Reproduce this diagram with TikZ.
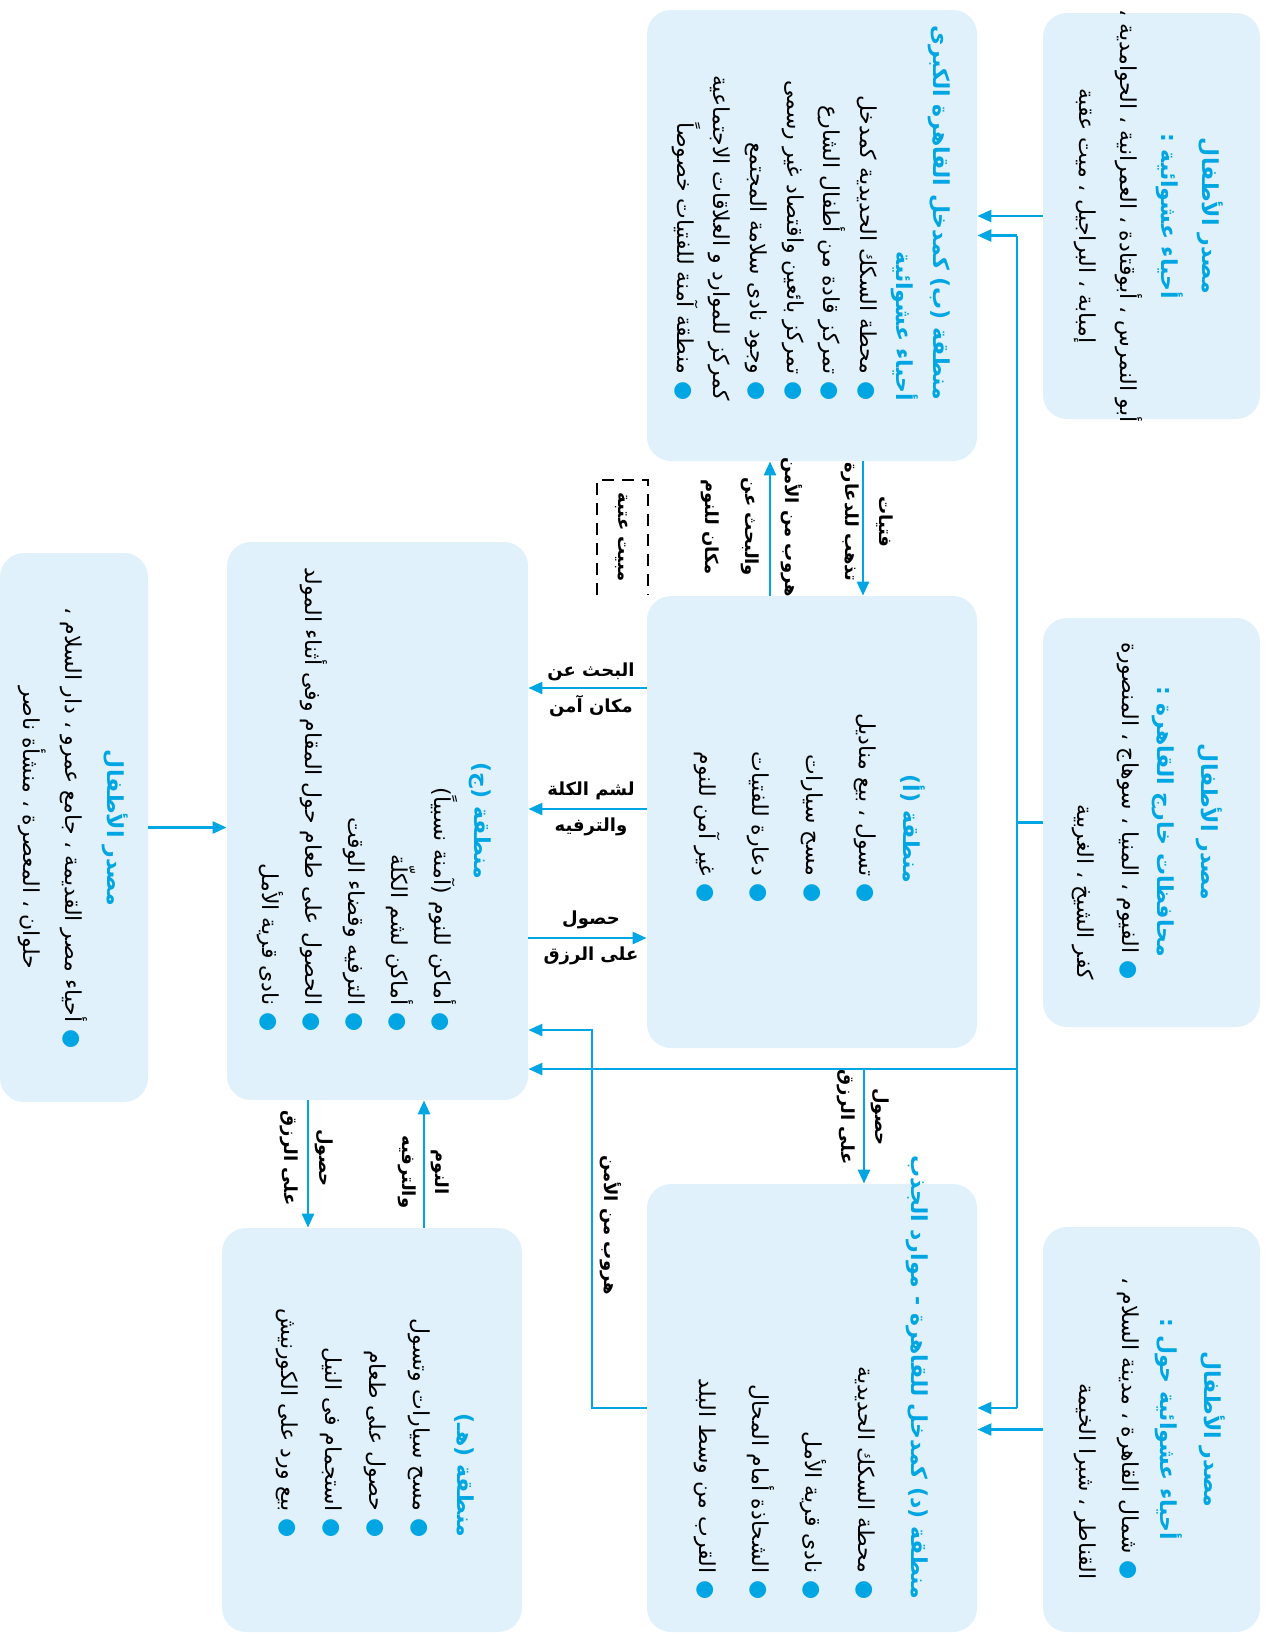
\documentclass[tikz,border=0pt]{standalone}
\usepackage{fontspec}
\newfontfamily\arabicfont[Script=Arabic]{DejaVu Sans}
\TeXXeTstate=1
\usetikzlibrary{arrows.meta}
\definecolor{boxblue}{RGB}{224,241,251}
\definecolor{hdblue}{RGB}{0,166,228}
\newcommand{\rl}[1]{\beginR #1\endR}
\newcommand{\hd}[1]{{\color{hdblue}\bfseries\beginR #1\endR}}
\newcommand{\bl}[1]{\beginR #1\endR\ {\color{hdblue}●}}
\begin{document}
\begin{tikzpicture}[x=0.5pt, y=-0.5pt,
  zone/.style={fill=boxblue, rounded corners=12pt, inner sep=0pt},
  txt/.style={rotate=-90, inner sep=0pt, font=\arabicfont\fontsize{11}{#1}\selectfont},
  lab/.style={inner sep=0pt, align=center, font=\arabicfont\bfseries\fontsize{9}{#1}\selectfont},
  flow/.style={draw=hdblue, line width=1.3pt, -{Triangle[length=7pt,width=6pt]}},
  link/.style={draw=hdblue, line width=1.3pt}]

\useasboundingbox (0,0) rectangle (1266,1635);

\node[zone, minimum width=108.5pt, minimum height=203pt] (srcWest) at (1151.5,216) {};
\node[zone, minimum width=165pt, minimum height=225.5pt] (zoneB) at (812,235.5) {};
\node[zone, minimum width=108.5pt, minimum height=204.5pt] (srcProv) at (1151.5,822.5) {};
\node[zone, minimum width=165pt, minimum height=226pt] (zoneA) at (812,822) {};
\node[zone, minimum width=108.5pt, minimum height=202.5pt] (srcNorth) at (1151.5,1429.5) {};
\node[zone, minimum width=165pt, minimum height=224pt] (zoneD) at (812,1408) {};
\node[zone, minimum width=150.5pt, minimum height=279pt] (zoneC) at (377.5,821) {};
\node[zone, minimum width=150pt, minimum height=202pt] (zoneE) at (372,1430) {};
\node[zone, minimum width=74pt, minimum height=274.5pt] (srcOld) at (74,827.5) {};

\node[txt=20.5, align=center] (tSrcWest) at (1148.5,216) {\hd{مصدر الأطفال}\\ \hd{أحياء عشوائية :}\\ \rl{أبو النمرس ، أبوقتادة ، العمرانية ، الحوامدية ،}\\ \rl{إمبابة ، البراجيل ، ميت عقبة}};

\node[txt=22, align=center] (hSrcProv) at (1187.5,822) {\hd{مصدر الأطفال}\\ \hd{محافظات خارج القاهرة :}};
\node[txt=22.5, align=right, anchor=east] (tSrcProv) at (1105.5,980) {\bl{الفيوم ، المنيا ، سوهاج ، المنصورة}\\ \rl{كفر الشيخ ، الغربية}};

\node[txt=22, align=center] (hSrcNorth) at (1190,1429.5) {\hd{مصدر الأطفال}\\ \hd{أحياء عشوائية حول :}};
\node[txt=21.5, align=right, anchor=east] (tSrcNorth) at (1106.5,1580) {\bl{شمال القاهرة ، مدينة السلام ،}\\ \rl{القناطر ، شبرا الخيمة}};

\node[txt=18.3, align=right, anchor=east] (tZoneB) at (811,401) {\hd{منطقة (ب) كمدخل القاهرة الكبرى}\\ \hd{أحياء عشوائية}\\ \bl{محطة السكك الحديدية كمدخل}\\ \bl{تمركز قادة من أطفال الشارع}\\ \bl{تمركز بائعين واقتصاد غير رسمى}\\ \bl{وجود نادى سلامة المجتمع}\\ \rl{كمركز للموارد و العلاقات الاجتماعية}\\ \bl{منطقة آمنة للفتيات خصوصاً}};

\node[txt=20, align=center] (hZoneA) at (913,829) {\hd{منطقة (أ)}};
\node[txt=26.7, align=right, anchor=east] (tZoneA) at (785,903) {\bl{تسول ، بيع مناديل}\\ \bl{مسح سيارات}\\ \bl{دعارة للفتيات}\\ \bl{غير آمن للنوم}};

\node[txt=26.5, align=right, anchor=east] (tZoneD) at (811,1600) {\hd{منطقة (د) كمدخل للقاهرة - موارد الجذب}\\ \bl{محطة السكك الحديدية}\\ \bl{نادى قرية الأمل}\\ \bl{الشحاذة أمام المحال}\\ \bl{القرب من وسط البلد}};

\node[txt=20, align=center] (hZoneC) at (480,821) {\hd{منطقة (ج)}};
\node[txt=21.5, align=right, anchor=east] (tZoneC) at (357,1032) {\bl{أماكن للنوم (آمنة نسبياً)}\\ \bl{أماكن لشم الكلّة}\\ \bl{الترفيه وقضاء الوقت}\\ \bl{الحصول على طعام حول المقام وفى أثناء المولد}\\ \bl{نادى قرية الأمل}};

\node[txt=22, align=right, anchor=east] (tZoneE) at (375.5,1538) {\hd{منطقة (هـ)}\\ \bl{مسح سيارات وتسول}\\ \bl{حصول على طعام}\\ \bl{استجمام فى النيل}\\ \bl{بيع ورد على الكورنيش}};

\node[txt=21, align=center] (tSrcOld) at (73,828) {\hd{مصدر الأطفال}\\ \bl{أحياء مصر القديمة ، جامع عمرو ، دار السلام ،}\\ \rl{حلوان ، المعصرة ، منشأة ناصر}};

\node[lab=17, rotate=-90] (lGirls) at (867,522) {\rl{فتيات}\\ \rl{تذهب للدعارة}};
\node[lab=20, rotate=-90] (lFlee) at (752,527) {\rl{هروب من الأمن}\\ \rl{والبحث عن}\\ \rl{مكان للنوم}};
\node[lab=12, rotate=-90] (lMabeet) at (622,537) {\rl{مبيت عتبة}};
\draw[line width=0.6pt, dash pattern=on 6pt off 4pt] (597,595) -- (597,480) -- (648,480) -- (648,595);

\node[lab=18] (lPairA) at (591,690) {\rl{البحث عن}\\ \rl{مكان آمن}};
\node[lab=18] (lPairB) at (591,809) {\rl{لشم الكلة}\\ \rl{والترفيه}};
\node[lab=18] (lPairC) at (591,938) {\rl{حصول}\\ \rl{على الرزق}};

\node[lab=17, rotate=-90] (lRizqD) at (863,1117) {\rl{حصول}\\ \rl{على الرزق}};
\node[lab=17.5, rotate=-90] (lRizqE) at (307,1158) {\rl{حصول}\\ \rl{على الرزق}};
\node[lab=16.5, rotate=-90] (lSleep) at (424,1172) {\rl{النوم}\\ \rl{والترفيه}};
\node[lab=12, rotate=-90] (lFleeD) at (611,1225) {\rl{هروب من الأمن}};

\coordinate (trunk) at (1017,822);
\coordinate (xGirl) at (863,530);
\coordinate (xFlee) at (770,530);
\coordinate (yOne) at (590,688);
\coordinate (yTwo) at (590,809);
\coordinate (yThree) at (590,938);
\coordinate (jRizq) at (864,1069);
\coordinate (esc) at (592,1030);
\coordinate (xRizq) at (308,1160);
\coordinate (xNap) at (424,1160);

\draw[flow] (srcWest.west) -- (srcWest.west -| zoneB.east);
\draw[link] (zoneB.east -| trunk) -- (zoneD.east -| trunk);
\draw[flow] (zoneB.east -| trunk) -- (zoneB.east);
\draw[flow] (zoneD.east -| trunk) -- (zoneD.east);
\draw[link] (srcProv.west) -- (srcProv.west -| trunk);
\draw[flow] (srcNorth.west) -- (srcNorth.west -| zoneD.east);
\draw[flow] (jRizq -| trunk) -- (jRizq -| zoneC.east);
\draw[flow] (jRizq) -- (jRizq |- zoneD.north);
\draw[flow] (xGirl |- zoneB.south) -- (xGirl |- zoneA.north);
\draw[flow] (xFlee |- zoneA.north) -- (xFlee |- zoneB.south);
\draw[flow] (yOne -| zoneA.west) -- (yOne -| zoneC.east);
\draw[flow] (yTwo -| zoneA.west) -- (yTwo -| zoneC.east);
\draw[flow] (yThree -| zoneC.east) -- (yThree -| zoneA.west);
\draw[flow] (zoneD.west) -- (zoneD.west -| esc) -- (esc) -- (esc -| zoneC.east);
\draw[flow] (xRizq |- zoneC.south) -- (xRizq |- zoneE.north);
\draw[flow] (xNap |- zoneE.north) -- (xNap |- zoneC.south);
\draw[flow] (srcOld.east) -- (srcOld.east -| zoneC.west);

\end{tikzpicture}
\end{document}
